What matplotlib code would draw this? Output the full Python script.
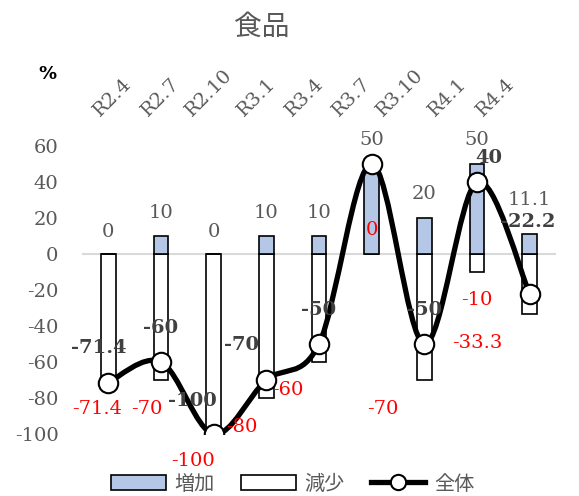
import matplotlib
matplotlib.use("Agg")
import matplotlib.pyplot as plt
from matplotlib.path import Path
from matplotlib.patches import PathPatch, Patch
from matplotlib.lines import Line2D
import numpy as np

# ---- data ----
categories = ["R2.4", "R2.7", "R2.10", "R3.1", "R3.4", "R3.7", "R3.10", "R4.1", "R4.4"]
increase = [0, 10, 0, 10, 10, 50, 20, 50, 11.1]
decrease = [-71.4, -70, -100, -80, -60, 0, -70, -10, -33.3]
overall = [-71.4, -60, -100, -70, -50, 50, -50, 40, -22.2]
yticks = [60, 40, 20, 0, -20, -40, -60, -80, -100]

# ---- layout (label offsets in pixels) ----
inc_off = [(0, 22), (0, 23), (0, 22), (0, 23), (0, 23), (0, 24), (0, 24), (0, 24), (0, 34)]
dec_off = [(-11, -26), (-14, -29), (-21, -27), (-25, -29), (-31, -28), (0, 24), (-42, -29), (0, -28), (-52, -29)]
all_off = [(-10, 35), (0, 34), (-21, 33), (-25, 35), (0, 34), None, (0, 34), (12, 24), (-2, 72)]

SERIF = "DejaVu Serif"
CJK = ["Noto Sans CJK JP", "DejaVu Sans"]
GRAY = "#595959"
FS = 14

W, H = 579, 496
fig = plt.figure(figsize=(W / 100, H / 100), dpi=100)
ax = fig.add_axes([82 / W, 62 / H, 474 / W, 288 / H])

x = np.arange(len(categories))
bw = 0.28
ax.axhline(0, color="#d9d9d9", lw=1.5, zorder=1)
ax.bar(x, decrease, width=bw, color="white", edgecolor="black", lw=1.2, zorder=2)
ax.bar(x, increase, width=bw, color="#b4c7e7", edgecolor="black", lw=1.2, zorder=3)

# smoothed line (Excel-like Bezier through the points)
pts = np.column_stack([x, overall]).astype(float)
verts = [tuple(pts[0])]
codes = [Path.MOVETO]
n = len(pts)
for i in range(n - 1):
    p0 = pts[max(i - 1, 0)]
    p1 = pts[i]
    p2 = pts[i + 1]
    p3 = pts[min(i + 2, n - 1)]
    c1 = p1 + (p2 - p0) / 6.0
    c2 = p2 - (p3 - p1) / 6.0
    verts += [tuple(c1), tuple(c2), tuple(p2)]
    codes += [Path.CURVE4] * 3
ax.add_patch(PathPatch(Path(verts, codes), facecolor="none", edgecolor="black",
                       lw=3.8, zorder=4, capstyle="round", joinstyle="round"))
ax.plot(x, overall, ls="none", marker="o", ms=14, mfc="white", mec="black",
        mew=1.5, zorder=5)

# data labels
for i in range(n):
    ax.annotate(f"{increase[i]:g}", (x[i], increase[i]), xytext=inc_off[i],
                textcoords="offset pixels", ha="center", va="center",
                fontsize=FS, family=SERIF, color=GRAY, annotation_clip=False, zorder=6)
    ax.annotate(f"{decrease[i]:g}", (x[i], decrease[i]), xytext=dec_off[i],
                textcoords="offset pixels", ha="center", va="center",
                fontsize=FS, family=SERIF, color="#ff0000", annotation_clip=False, zorder=6)
    if all_off[i] is not None:
        ax.annotate(f"{overall[i]:g}", (x[i], overall[i]), xytext=all_off[i],
                    textcoords="offset pixels", ha="center", va="center",
                    fontsize=FS, family=SERIF, fontweight="bold", color="#404040",
                    annotation_clip=False, zorder=6)

ax.set_xlim(-0.5, len(categories) - 0.5)
ax.set_ylim(-100, 60)
ax.set_yticks(yticks)
ax.set_yticklabels([f"{v}" for v in yticks], family=SERIF, fontsize=FS, color=GRAY)
ax.tick_params(axis="y", length=0, pad=17)
ax.set_xticks([])
for s in ax.spines.values():
    s.set_visible(False)

# top category labels
ax2 = ax.twiny()
ax2.set_xlim(-0.6485, -0.6485 + 9.916)
ax2.set_xticks(x)
ax2.set_xticklabels(categories, rotation=45, ha="center", family=SERIF,
                    fontsize=14, color=GRAY)
ax2.tick_params(axis="x", length=0, pad=19)
for s in ax2.spines.values():
    s.set_visible(False)

fig.text(262 / W, 1 - 27 / H, "食品", ha="center", va="center", fontsize=20,
         family=CJK, color=GRAY)
fig.text(47 / W, 1 - 74 / H, "%", ha="center", va="center", fontsize=13,
         family="DejaVu Sans", fontweight="bold", color="black")

handles = [
    Patch(facecolor="#b4c7e7", edgecolor="black", lw=1.2, label="増加"),
    Patch(facecolor="white", edgecolor="black", lw=1.2, label="減少"),
    Line2D([], [], color="black", lw=3.8, marker="o", ms=11, mfc="white",
           mec="black", mew=1.5, label="全体"),
]
leg = fig.legend(handles=handles, loc="center", bbox_to_anchor=(293 / W, 12 / H),
                 ncol=3, frameon=False, handlelength=2.7, handleheight=0.7,
                 handletextpad=0.45, columnspacing=1.3,
                 prop={"family": CJK, "size": 14.5})
for t in leg.get_texts():
    t.set_color(GRAY)

fig.savefig("out.png", dpi=100)
